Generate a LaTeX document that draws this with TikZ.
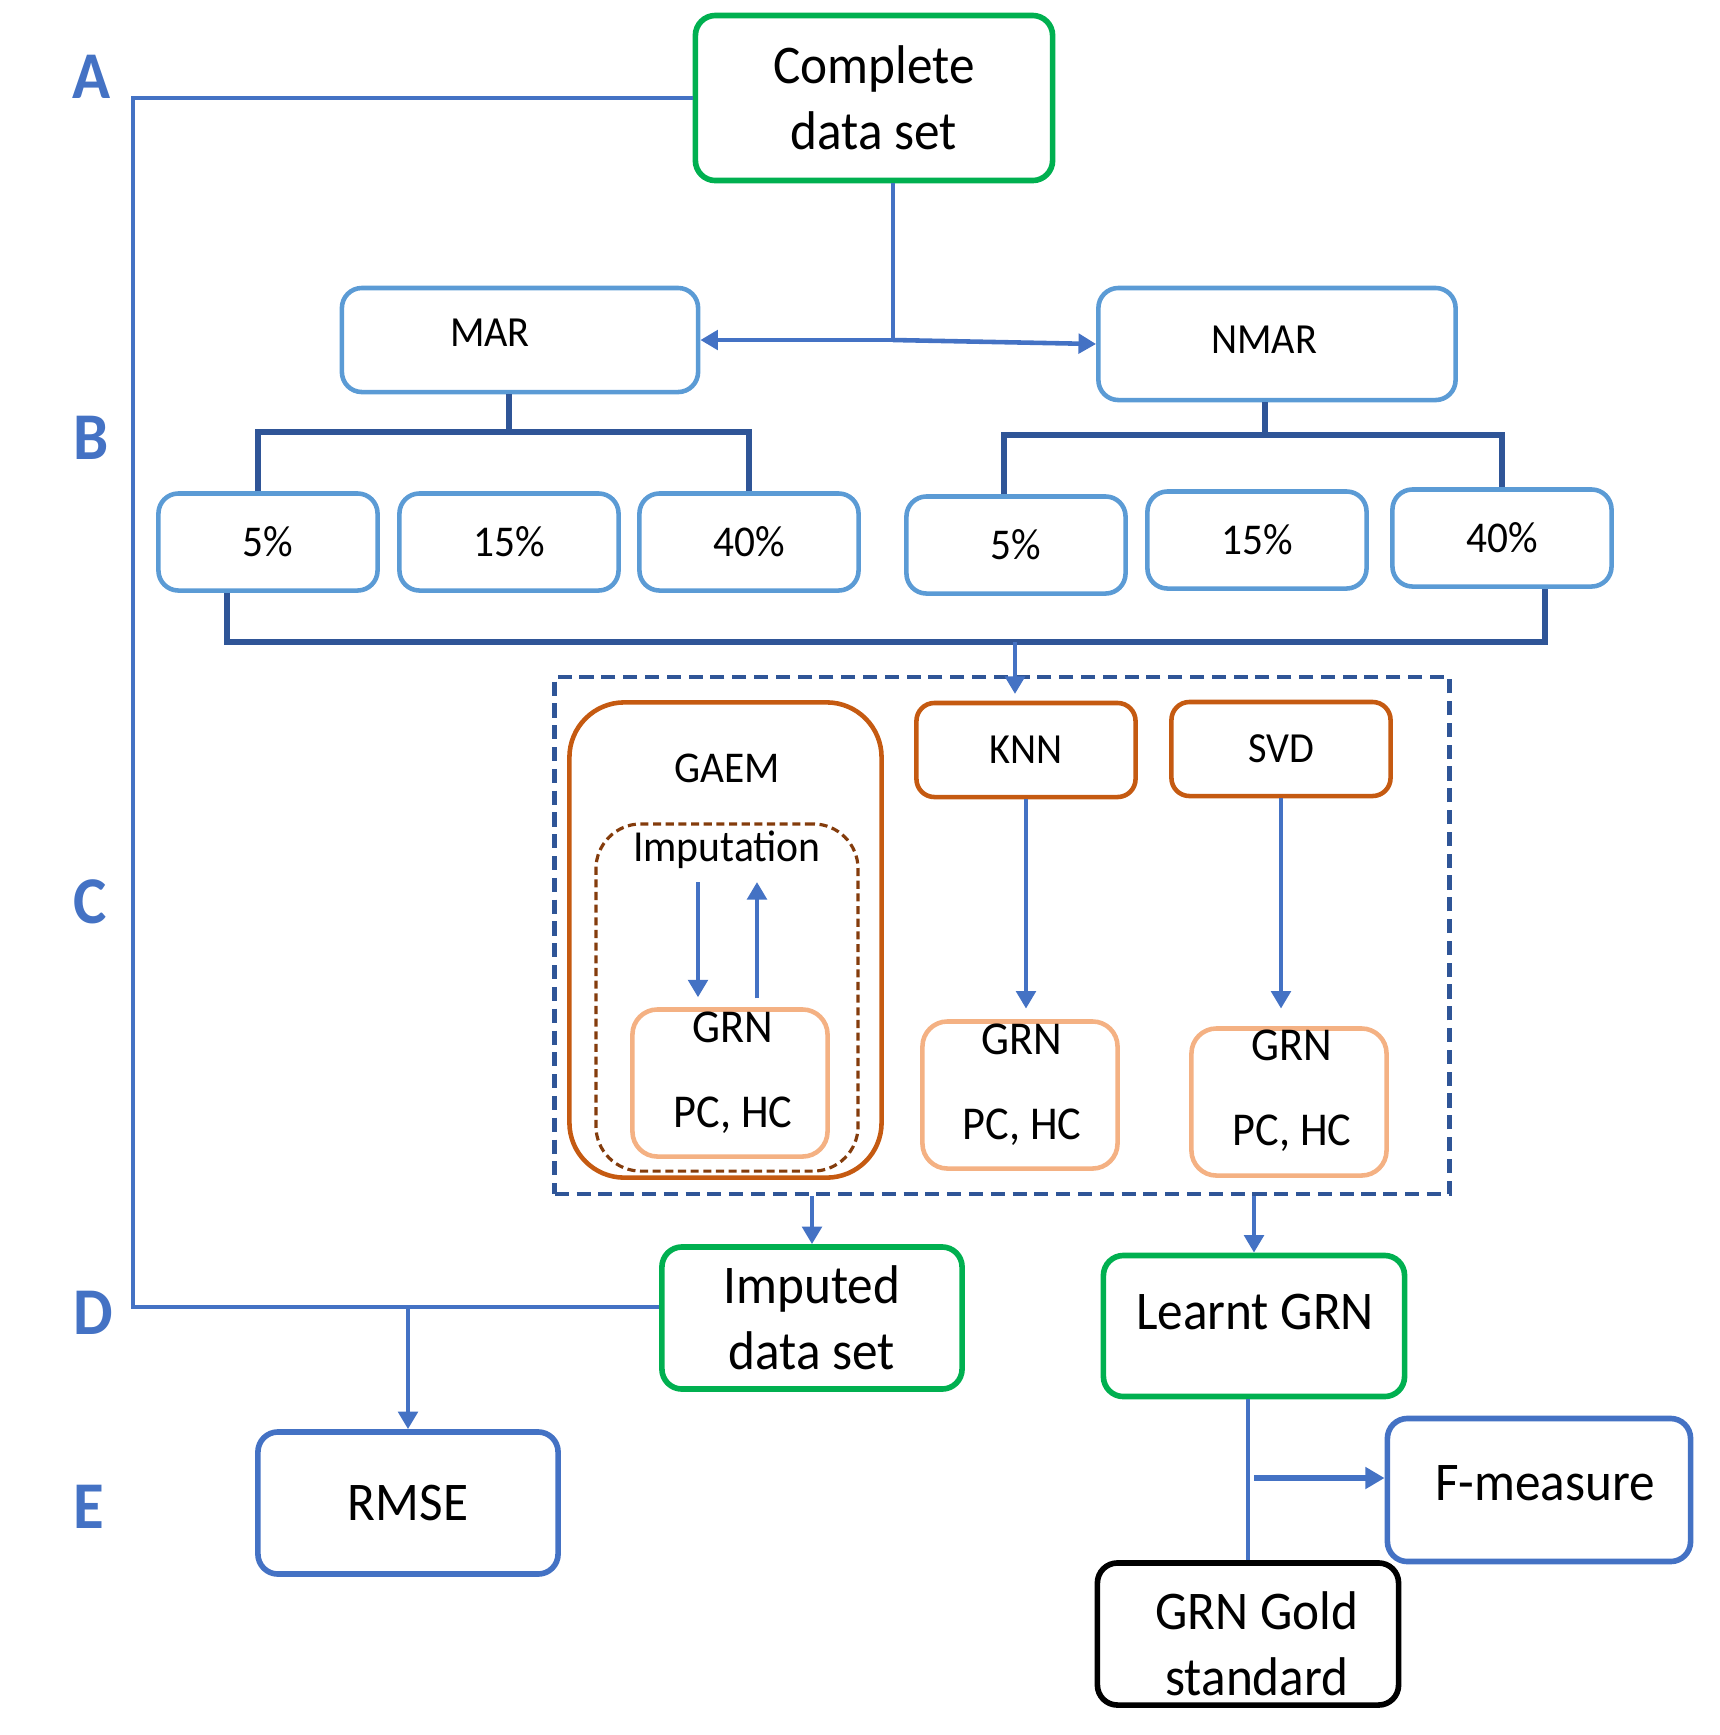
\documentclass[tikz,border=0pt]{standalone}
\usepackage{fontspec}
\setmainfont{Carlito}[FakeStretch=0.94]
\usetikzlibrary{arrows.meta}

\definecolor{boxgreen}{HTML}{00B050}
\definecolor{boxblue}{HTML}{5B9BD5}
\definecolor{linkblue}{HTML}{4472C4}
\definecolor{darkblue}{HTML}{2F5597}
\definecolor{methorange}{HTML}{C55A11}
\definecolor{grnorange}{HTML}{F4B183}
\definecolor{impbrown}{HTML}{843C0C}

\begin{document}
\begin{tikzpicture}[x=0.01cm, y=-0.01cm,
  bigbox/.style={rounded corners=0.2cm, line width=1.6pt, align=center,
    font=\fontsize{15.5}{18.8}\selectfont},
  stagebox/.style={bigbox, draw=boxgreen},
  scorebox/.style={bigbox, draw=linkblue},
  goldbox/.style={bigbox, draw=black},
  bigtext/.style={align=center, font=\fontsize{15.5}{18.8}\selectfont},
  mechbox/.style={draw=boxblue, line width=1.3pt, rounded corners=0.2cm,
    font=\fontsize{12.5}{15}\selectfont},
  ratebox/.style={mechbox, minimum width=2.19cm, minimum height=0.97cm},
  methbox/.style={draw=methorange, line width=1.3pt, rounded corners=0.18cm,
    font=\fontsize{12.2}{15}\selectfont, minimum width=2.19cm, minimum height=0.94cm},
  grnbox/.style={draw=grnorange, line width=1.3pt, rounded corners=0.25cm,
    minimum width=1.95cm, minimum height=1.47cm},
  grntext/.style={align=center, font=\fontsize{13.4}{24.2}\selectfont},
  link/.style={draw=linkblue, line width=1.3pt},
  arrowlink/.style={link, -{Triangle[length=5pt,width=5.5pt]}},
  bracket/.style={draw=darkblue, line width=1.8pt},
  rowlabel/.style={text=linkblue, font=\fontsize{19}{23}\selectfont\bfseries}
]
\useasboundingbox (0,0) rectangle (1720,1735);

% Row labels
\node[rowlabel] (labA) at (92,77) {A};
\node[rowlabel] (labB) at (91,438) {B};
\node[rowlabel] (labC) at (90,902) {C};
\node[rowlabel] (labD) at (93,1313) {D};
\node[rowlabel] (labE) at (89,1507) {E};

% Complete data and missingness mechanisms
\node[stagebox, minimum width=3.57cm, minimum height=1.65cm] (complete) at (874,98) {Complete\\data set};
\node[mechbox, minimum width=3.56cm, minimum height=1.04cm] (mar) at (520,340) {};
\node[font=\fontsize{12.2}{15}\selectfont] (marText) at (490,333) {MAR};
\node[mechbox, minimum width=3.57cm, minimum height=1.12cm] (nmar) at (1277,344) {};
\node[font=\fontsize{12.2}{15}\selectfont] (nmarText) at (1264,340) {NMAR};

% Missing rates
\node[ratebox] (mar5) at (268,542) {5\%};
\node[ratebox] (mar15) at (509,542) {15\%};
\node[ratebox] (mar40) at (749,542) {40\%};
\node[ratebox] (nmar5) at (1016,545) {5\%};
\node[ratebox] (nmar15) at (1257,540) {15\%};
\node[ratebox] (nmar40) at (1502,538) {40\%};

% Imputation methods
\node[draw=darkblue, line width=1.3pt, dash pattern=on 4pt off 2.2pt,
  minimum width=8.94cm, minimum height=5.17cm] (methods) at (1002,935.5) {};
\node[draw=methorange, line width=1.3pt, rounded corners=0.55cm,
  minimum width=3.12cm, minimum height=4.75cm] (gaem) at (725.5,940) {};
\node[font=\fontsize{12.5}{15}\selectfont] (gaemName) at (727,768) {GAEM};
\node[draw=impbrown, line width=0.9pt, dash pattern=on 2.3pt off 1.3pt, rounded corners=0.45cm,
  minimum width=2.62cm, minimum height=3.47cm] (impLoop) at (727,997.5) {};
\node[font=\fontsize{12.6}{15}\selectfont] (impName) at (727,850) {Imputation};
\node[grnbox] (grnG) at (730,1083) {};
\node[grntext] (grnGText) at (733,1073) {GRN\\PC, HC};
\node[methbox] (knn) at (1026,750) {KNN};
\node[methbox] (svd) at (1281,749) {SVD};
\node[grnbox] (grnK) at (1020,1095) {};
\node[grntext] (grnKText) at (1022,1085) {GRN\\PC, HC};
\node[grnbox] (grnS) at (1289,1102) {};
\node[grntext] (grnSText) at (1292,1091) {GRN\\PC, HC};

% Outputs and evaluation
\node[stagebox, minimum width=3cm, minimum height=1.42cm] (imputed) at (812,1318) {Imputed\\data set};
\node[stagebox, minimum width=3.01cm, minimum height=1.41cm] (learnt) at (1254,1326) {};
\node[bigtext] (learntText) at (1255,1312) {Learnt GRN};
\node[scorebox, minimum width=3cm, minimum height=1.42cm] (rmse) at (408,1503) {RMSE};
\node[scorebox, minimum width=3.03cm, minimum height=1.43cm] (fmeasure) at (1539,1490) {};
\node[bigtext] (fmeasureText) at (1545,1483) {F-measure};
\node[goldbox, minimum width=3.01cm, minimum height=1.42cm] (gold) at (1248,1634) {};
\node[bigtext] (goldText) at (1257,1644) {GRN Gold\\standard};

% Junction points
\coordinate (cornerD) at (133,1307);
\coordinate (split) at (893,340);
\coordinate (barM) at (509,432);
\coordinate (barN) at (1265,435);
\coordinate (barL) at (227,642);
\coordinate (barR) at (1545,642);
\coordinate (barMid) at (1015,642);
\coordinate (methIn) at (1015,694);
\coordinate (impDown) at (698,882);
\coordinate (impUp) at (757,882);
\coordinate (fmIn) at (1254,1478);

% Complete data to mechanisms
\draw[link] (complete.south -| split) -- (split);
\draw[arrowlink] (split) -- (mar.east);
\draw[arrowlink] (split) -- (nmar.west);

% Mechanisms to rates
\draw[bracket] (mar.south -| barM) -- (barM);
\draw[bracket] (mar5.north -| 258,0) |- (barM) -| (mar40.north);
\draw[bracket] (nmar.south -| barN) -- (barN);
\draw[bracket] (nmar5.north -| 1004,0) |- (barN) -| (nmar40.north);

% Rates to methods
\draw[bracket] (mar5.south -| barL) -- (barL) -- (barR) -- (nmar40.south -| barR);
\draw[arrowlink] (barMid) -- (methIn);

% Inside the methods
\draw[arrowlink, shorten >=2.8pt] (impDown) -- (impDown |- grnG.north);
\draw[arrowlink, shorten <=2.5pt] (impUp |- grnG.north) -- (impUp);
\draw[arrowlink, shorten >=3pt] (knn.south) -- (knn.south |- grnK.north);
\draw[arrowlink, shorten >=5pt] (svd.south) -- (svd.south |- grnS.north);

% Methods to outputs
\draw[arrowlink] (methods.south -| imputed.north) -- (imputed.north);
\draw[arrowlink] (methods.south -| learnt.north) -- (learnt.north);

% Evaluation
\draw[link] (complete.west) -| (cornerD) -- (imputed.west |- cornerD);
\draw[arrowlink] (rmse.north |- cornerD) -- (rmse.north);
\draw[link] (gold.north) -- (gold.north |- learnt.south);
\draw[link, line width=1.6pt, -{Triangle[length=5.5pt,width=6pt]}] (fmIn) -- (fmIn -| fmeasure.west);
\end{tikzpicture}
\end{document}
